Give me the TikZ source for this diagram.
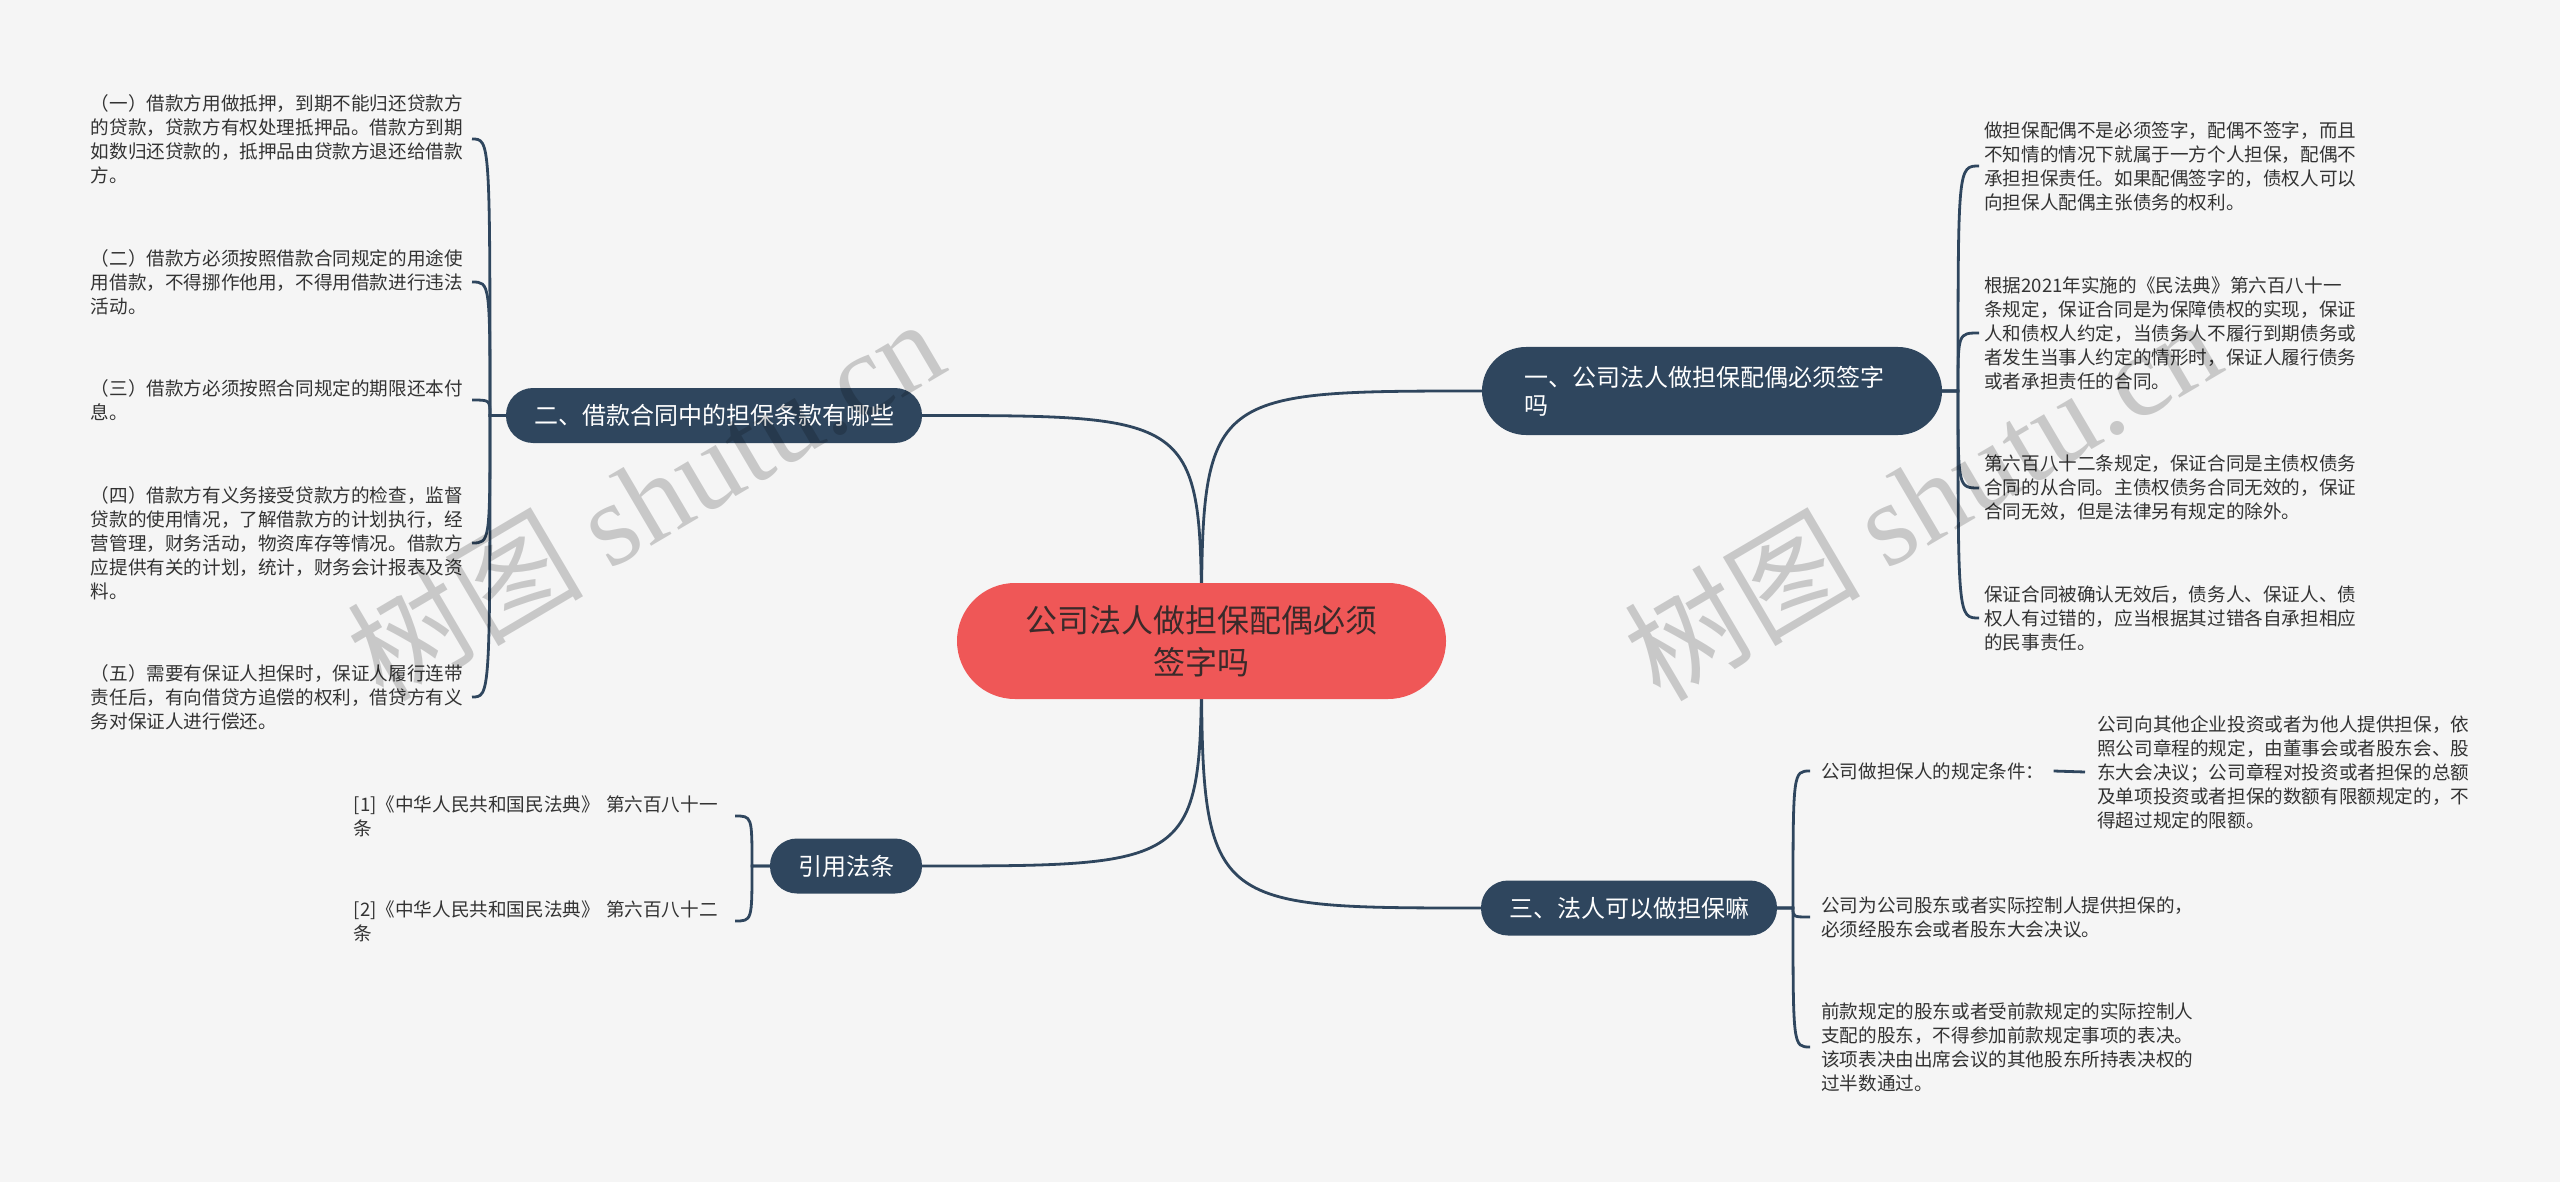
\documentclass[tikz,border=0pt]{standalone}
\usepackage{fontspec}
\setmainfont{Noto Sans CJK SC}
\newfontfamily\wmserif{Liberation Serif}
\definecolor{bg}{HTML}{F5F5F5}
\definecolor{navy}{HTML}{2F465E}
\definecolor{redc}{HTML}{EF5757}
\definecolor{txt}{HTML}{333333}
\definecolor{ctxt}{HTML}{3A2A2A}
\pgfdeclarelayer{bgfill}
\pgfdeclarelayer{lines}
\pgfsetlayers{bgfill,lines,main}
\begin{document}
\begin{tikzpicture}[x=1pt,y=-1pt,
  leaf/.style={text width=374pt, align=left, inner xsep=7pt, inner ysep=4pt,
    font=\fontsize{18.6}{24}\selectfont, text=txt},
  single/.style={inner xsep=7pt, inner ysep=4pt, font=\fontsize{18.6}{24}\selectfont, text=txt},
  branch/.style={fill=navy, text=white, font=\fontsize{24}{29}\selectfont,
    inner xsep=28pt, inner ysep=4pt, minimum height=55pt, rounded corners=27pt},
  link/.style={draw=navy, line width=2.8pt},
  wm/.style={rotate=30.5, text=black, opacity=0.18, font=\fontsize{118}{118}\selectfont}
]
\begin{pgfonlayer}{bgfill}
\fill[bg] (0,0) rectangle (2560,1182);
\end{pgfonlayer}
\useasboundingbox (0,0) rectangle (2560,1182);

% centre
\node[fill=redc, text=ctxt, rounded corners=58pt, minimum height=116pt, text width=352pt,
  align=center, inner xsep=68.5pt, font=\fontsize{32}{42}\selectfont] (c) at (1201.5,641)
  {公司法人做担保配偶必须\\签字吗};

% branches
\node[branch, text width=376pt, align=left, inner xsep=42pt, minimum height=88pt,
  rounded corners=44pt, font=\fontsize{24}{28}\selectfont] (b1) at (1712,391)
  {一、公司法人做担保配偶必须签字\\吗};
\node[branch] (b2) at (714,415.5) {二、借款合同中的担保条款有哪些};
\node[branch] (b3) at (1629,908) {三、法人可以做担保嘛};
\node[branch] (b4) at (846,866) {引用法条};

% left leaves of b2
\node[leaf, anchor=east] (l1) at (472,139) {（一）借款方用做抵押，到期不能归还贷款方\\
的贷款，贷款方有权处理抵押品。借款方到期\\
如数归还贷款的，抵押品由贷款方退还给借款\\
方。};
\node[leaf, anchor=east] (l2) at (472,282) {（二）借款方必须按照借款合同规定的用途使\\
用借款，不得挪作他用，不得用借款进行违法\\
活动。};
\node[leaf, anchor=east] (l3) at (472,400) {（三）借款方必须按照合同规定的期限还本付\\
息。};
\node[leaf, anchor=east] (l4) at (472,543) {（四）借款方有义务接受贷款方的检查，监督\\
贷款的使用情况，了解借款方的计划执行，经\\
营管理，财务活动，物资库存等情况。借款方\\
应提供有关的计划，统计，财务会计报表及资\\
料。};
\node[leaf, anchor=east] (l5) at (472,697) {（五）需要有保证人担保时，保证人履行连带\\
责任后，有向借贷方追偿的权利，借贷方有义\\
务对保证人进行偿还。};

% right leaves of b1
\node[leaf, anchor=west] (r1) at (1977,166) {做担保配偶不是必须签字，配偶不签字，而且\\
不知情的情况下就属于一方个人担保，配偶不\\
承担担保责任。如果配偶签字的，债权人可以\\
向担保人配偶主张债务的权利。};
\node[leaf, anchor=west] (r2) at (1977,333) {根据2021年实施的《民法典》第六百八十一\\
条规定，保证合同是为保障债权的实现，保证\\
人和债权人约定，当债务人不履行到期债务或\\
者发生当事人约定的情形时，保证人履行债务\\
或者承担责任的合同。};
\node[leaf, anchor=west] (r3) at (1977,488) {第六百八十二条规定，保证合同是主债权债务\\
合同的从合同。主债权债务合同无效的，保证\\
合同无效，但是法律另有规定的除外。};
\node[leaf, anchor=west] (r4) at (1977,618) {保证合同被确认无效后，债务人、保证人、债\\
权人有过错的，应当根据其过错各自承担相应\\
的民事责任。};

% children of b3
\node[single, anchor=west] (k1) at (1814,771) {公司做担保人的规定条件：};
\node[leaf, anchor=west] (k1a) at (2090,772) {公司向其他企业投资或者为他人提供担保，依\\
照公司章程的规定，由董事会或者股东会、股\\
东大会决议；公司章程对投资或者担保的总额\\
及单项投资或者担保的数额有限额规定的，不\\
得超过规定的限额。};
\node[leaf, anchor=west] (k2) at (1814,917) {公司为公司股东或者实际控制人提供担保的，\\
必须经股东会或者股东大会决议。};
\node[leaf, anchor=west] (k3) at (1814,1047) {前款规定的股东或者受前款规定的实际控制人\\
支配的股东，不得参加前款规定事项的表决。\\
该项表决由出席会议的其他股东所持表决权的\\
过半数通过。};

% children of b4
\node[leaf, anchor=east] (f1) at (735,816) {[1]《中华人民共和国民法典》 第六百八十一\\条};
\node[leaf, anchor=east] (f2) at (735,921) {[2]《中华人民共和国民法典》 第六百八十二\\条};

% trunk points
\coordinate (t1) at (1958,391);
\coordinate (t2) at (490,415.5);
\coordinate (t3) at (1793,908);
\coordinate (t4) at (752,866);

\begin{pgfonlayer}{lines}
% centre to branches
\draw[link] (c.center) .. controls (c.center |- b1.west) .. (b1.west);
\draw[link] (c.center) .. controls (c.center |- b2.east) .. (b2.east);
\draw[link] (c.center) .. controls (c.center |- b3.west) .. (b3.west);
\draw[link] (c.center) .. controls (c.center |- b4.east) .. (b4.east);
% b1
\foreach \n in {r1,r2,r3,r4}
  \draw[link] (b1.east) -- (t1) .. controls (t1 |- \n.west) .. ([xshift=2pt]\n.west);
% b2
\foreach \n in {l1,l2,l3,l4,l5}
  \draw[link] (b2.west) -- (t2) .. controls (t2 |- \n.east) .. (\n.east);
% b3
\foreach \n in {k1,k2,k3}
  \draw[link] (b3.east) -- (t3) .. controls (t3 |- \n.west) .. ([xshift=-4pt]\n.west);
\draw[link] ([xshift=2pt]k1.east) -- ([xshift=-5pt]k1a.west);
% b4
\foreach \n in {f1,f2}
  \draw[link] (b4.west) -- (t4) .. controls (t4 |- \n.east) .. (\n.east);
\end{pgfonlayer}

% watermarks
\node[wm] (w1) at (645,498) {树图 {\wmserif shutu.cn}};
\node[wm] (w2) at (1922,498) {树图 {\wmserif shutu.cn}};
\end{tikzpicture}
\end{document}
